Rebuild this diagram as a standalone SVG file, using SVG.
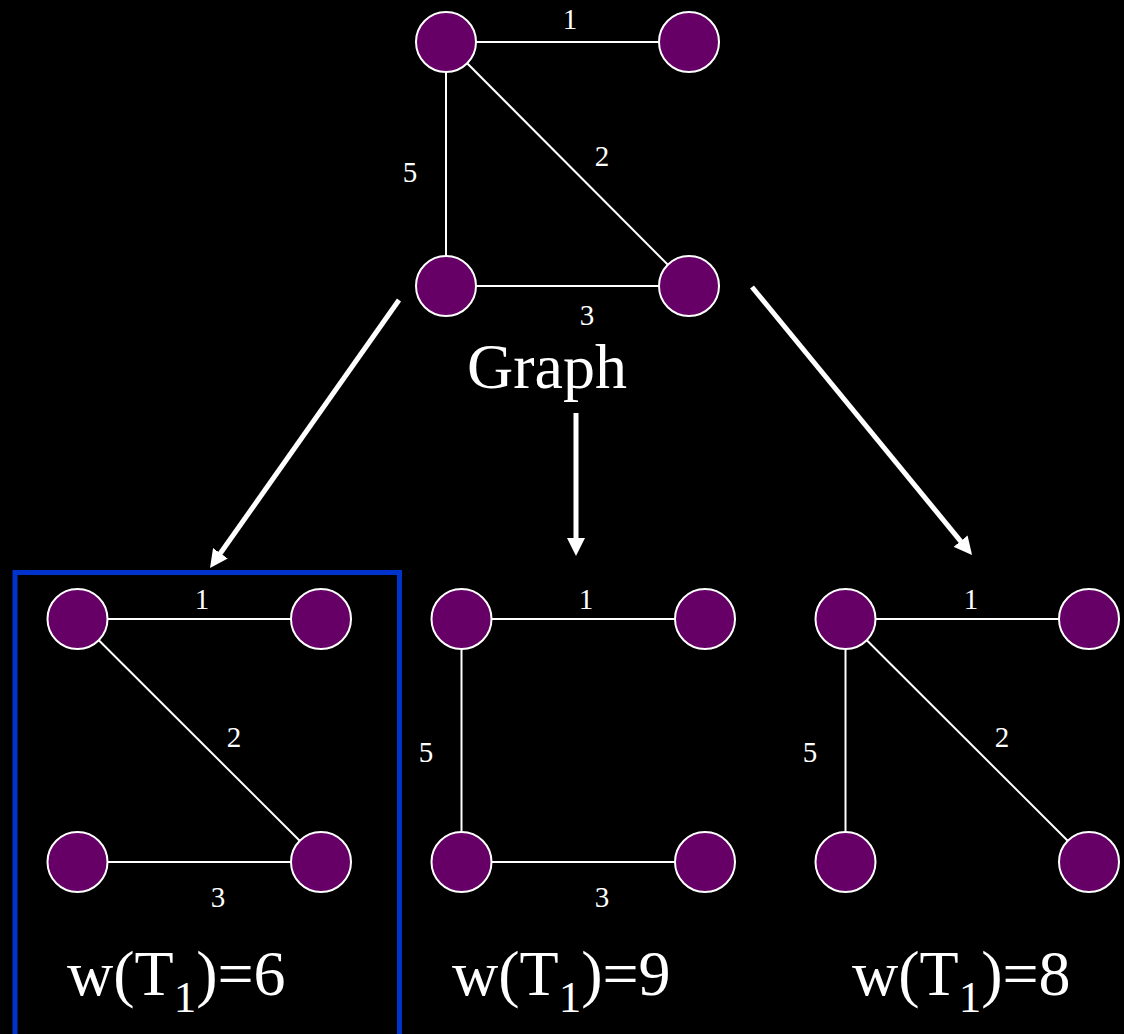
<svg xmlns="http://www.w3.org/2000/svg" width="1124" height="1034" viewBox="0 0 1124 1034">
<defs>
<style>
.edge{stroke:#fff;stroke-width:2;fill:none}
.arrow{stroke:#fff;stroke-width:5;fill:none}
.node{fill:#660066;stroke:#fff;stroke-width:2}
.lbl{fill:#fff;font-size:29px;text-anchor:middle}
.big{fill:#fff;font-size:64px}
.w{fill:#fff;font-size:64px}
.sub{font-size:45px}
</style>
<marker id="ah" markerUnits="userSpaceOnUse" viewBox="0 0 18 18" markerWidth="18" markerHeight="18" refX="8" refY="9" orient="auto">
<path d="M0,0 L18,9 L0,18 z" fill="#fff"/>
</marker>
</defs>
<rect width="1124" height="1034" fill="#000"/>
<rect x="15" y="572.5" width="384.5" height="500" fill="none" stroke="#0033cc" stroke-width="5"/>
<g id="connectors">
<line class="edge" x1="446" y1="42" x2="689" y2="42"/>
<line class="edge" x1="446" y1="42" x2="446" y2="286"/>
<line class="edge" x1="446" y1="42" x2="689" y2="286"/>
<line class="edge" x1="446" y1="286" x2="689" y2="286"/>
<line class="edge" x1="77.5" y1="619" x2="321" y2="619"/>
<line class="edge" x1="77.5" y1="619" x2="321" y2="862"/>
<line class="edge" x1="77.5" y1="862" x2="321" y2="862"/>
<line class="edge" x1="461.5" y1="619" x2="705" y2="619"/>
<line class="edge" x1="461.5" y1="619" x2="461.5" y2="862"/>
<line class="edge" x1="461.5" y1="862" x2="705" y2="862"/>
<line class="edge" x1="845.5" y1="619" x2="1089" y2="619"/>
<line class="edge" x1="845.5" y1="619" x2="845.5" y2="862"/>
<line class="edge" x1="845.5" y1="619" x2="1089" y2="862"/>
<line class="arrow" x1="399" y1="300" x2="215.8" y2="559.8" marker-end="url(#ah)"/>
<line class="arrow" x1="576" y1="413" x2="576" y2="546" marker-end="url(#ah)"/>
<line class="arrow" x1="752" y1="287" x2="965.7" y2="547.3" marker-end="url(#ah)"/>
</g>
<g id="edge-labels" font-family="'Liberation Serif', 'Times New Roman', Times, serif">
<text class="lbl" x="570" y="29">1</text>
<text class="lbl" x="410" y="182">5</text>
<text class="lbl" x="602" y="166">2</text>
<text class="lbl" x="587" y="325">3</text>
<text class="lbl" x="202" y="609">1</text>
<text class="lbl" x="234" y="747">2</text>
<text class="lbl" x="218" y="907">3</text>
<text class="lbl" x="586" y="609">1</text>
<text class="lbl" x="426" y="762">5</text>
<text class="lbl" x="602" y="907">3</text>
<text class="lbl" x="971" y="609">1</text>
<text class="lbl" x="810" y="762">5</text>
<text class="lbl" x="1002" y="747">2</text>
</g>
<g id="graph" font-family="'Liberation Serif', 'Times New Roman', Times, serif">
<circle id="g-a" class="node" cx="446" cy="42" r="30"/>
<circle id="g-b" class="node" cx="689" cy="42" r="30"/>
<circle id="g-c" class="node" cx="446" cy="286" r="30"/>
<circle id="g-d" class="node" cx="689" cy="286" r="30"/>
<text class="big" x="467" y="388">Graph</text>
</g>
<g id="tree1" font-family="'Liberation Serif', 'Times New Roman', Times, serif">
<circle class="node" cx="77.5" cy="619" r="30"/>
<circle class="node" cx="321" cy="619" r="30"/>
<circle class="node" cx="77.5" cy="862" r="30"/>
<circle class="node" cx="321" cy="862" r="30"/>
<text class="w" x="67" y="995">w(T<tspan class="sub" dy="17">1</tspan><tspan dy="-17">)=6</tspan></text>
</g>
<g id="tree2" font-family="'Liberation Serif', 'Times New Roman', Times, serif">
<circle class="node" cx="461.5" cy="619" r="30"/>
<circle class="node" cx="705" cy="619" r="30"/>
<circle class="node" cx="461.5" cy="862" r="30"/>
<circle class="node" cx="705" cy="862" r="30"/>
<text class="w" x="452" y="995">w(T<tspan class="sub" dy="17">1</tspan><tspan dy="-17">)=9</tspan></text>
</g>
<g id="tree3" font-family="'Liberation Serif', 'Times New Roman', Times, serif">
<circle class="node" cx="845.5" cy="619" r="30"/>
<circle class="node" cx="1089" cy="619" r="30"/>
<circle class="node" cx="845.5" cy="862" r="30"/>
<circle class="node" cx="1089" cy="862" r="30"/>
<text class="w" x="852" y="995">w(T<tspan class="sub" dy="17">1</tspan><tspan dy="-17">)=8</tspan></text>
</g>
</svg>
